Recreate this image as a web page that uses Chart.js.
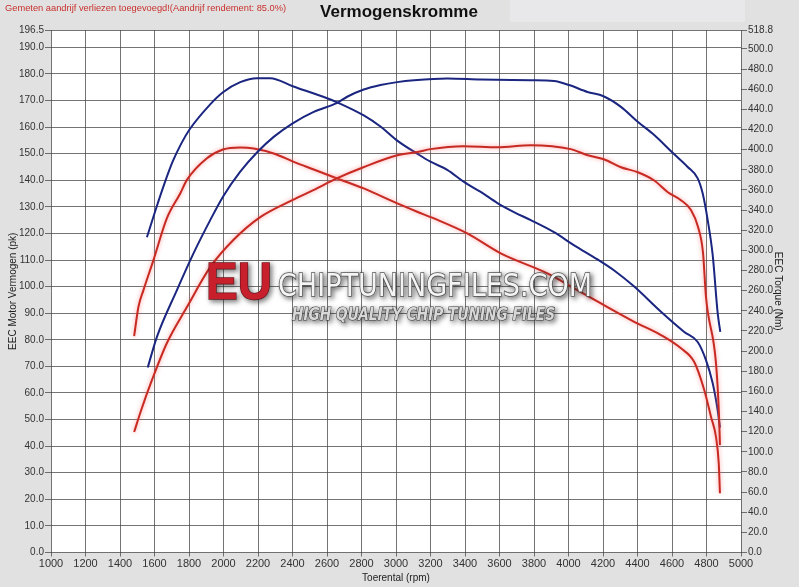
<!DOCTYPE html>
<html>
<head>
<meta charset="utf-8">
<script src="https://cdn.jsdelivr.net/npm/chart.js@4.4.1/dist/chart.umd.min.js"></script>
<style>
    html, body { margin: 0; padding: 0; background: #e1e1e1; }
</style>
</head>
<body>
<canvas id="chart" width="799" height="587"></canvas>
<script>
// tick labels
const rpmTicks = [1000, 1200, 1400, 1600, 1800, 2000, 2200, 2400, 2600, 2800, 3000,
    3200, 3400, 3600, 3800, 4000, 4200, 4400, 4600, 4800, 5000];
const pkTicks = [0, 10, 20, 30, 40, 50, 60, 70, 80, 90, 100, 110, 120, 130, 140,
    150, 160, 170, 180, 190, 196.5];
const nmTicks = [0, 20, 40, 60, 80, 100, 120, 140, 160, 180, 200, 220, 240, 260, 280,
    300, 320, 340, 360, 380, 400, 420, 440, 460, 480, 500, 518.8];

// tuned power (pk)
const tunedPowerRpm = [1561, 1614, 1730, 1826, 1923, 1997, 2097, 2198, 2291, 2401, 2523,
    2659, 2717, 2813, 2910, 3007, 3104, 3297, 3491, 3781, 3916, 4003, 4110, 4203, 4304,
    4401, 4497, 4604, 4691, 4749, 4778, 4807, 4836, 4865, 4880];
const tunedPowerPk = [69.6, 81.1, 98.7, 112.5, 125.0, 133.8, 143.2, 150.7, 156.3, 161.4, 165.7,
    169.1, 171.4, 174.1, 175.8, 176.9, 177.6, 178.3, 177.9, 177.6, 177.3, 175.8, 173.2, 171.6, 167.6,
    162.0, 157.0, 150.3, 145.0, 140.7, 135.0, 125.0, 111.8, 89.9, 83.0];

// stock power (pk)
const stockPowerRpm = [1482, 1523, 1585, 1672, 1788, 1923, 2057, 2213, 2399, 2521, 2660,
    2811, 3008, 3125, 3200, 3392, 3589, 3781, 4013, 4112, 4205, 4304, 4402, 4495, 4576,
    4652, 4710, 4751, 4780, 4797, 4855, 4872, 4878];
const stockPowerPk = [45.3, 53.6, 64.8, 78.8, 92.3, 107.3, 117.5, 126.1, 132.5, 136.3, 140.8,
    144.9, 149.4, 150.6, 151.7, 152.8, 152.4, 153.2, 151.7, 149.4, 147.9, 144.9, 143.0, 140.0, 135.5,
    132.5, 128.8, 122.4, 112.6, 96.1, 71.2, 52.4, 40.4];

// tuned torque (Nm)
const tunedTorqueRpm = [1556, 1610, 1655, 1705, 1755, 1803, 1923, 1997, 2097, 2194, 2271, 2401,
    2601, 2659, 2813, 2910, 3007, 3123, 3200, 3297, 3394, 3491, 3588, 3684, 3781, 3916,
    4033, 4168, 4265, 4381, 4536, 4671, 4749, 4797, 4836, 4865, 4878];
const tunedTorqueNm = [313, 342, 365, 388, 406, 420, 445, 457, 467, 471, 471, 463,
    451, 447, 434, 423, 409, 396, 388, 380, 368, 358, 347, 338, 330, 318,
    305, 291, 280, 264, 239, 219, 209, 191, 168, 141, 124];

// stock torque (Nm)
const stockTorqueRpm = [1482, 1507, 1536, 1594, 1672, 1749, 1788, 1904, 1997, 2097, 2175,
    2291, 2407, 2523, 2659, 2813, 3007, 3123, 3220, 3413, 3607, 3878, 4033, 4188, 4381,
    4536, 4652, 4729, 4787, 4826, 4855, 4871, 4878];
const stockTorqueNm = [214.9, 244.0, 260.5, 290.3, 332.0, 356.5, 370.0, 391.5, 400.2, 402.2, 401.2,
    396.2, 387.9, 380.3, 371.4, 361.5, 346.6, 338.3, 331.7, 316.8, 297.0, 277.1, 262.2, 247.3, 229.1,
    215.9, 202.7, 189.1, 161.3, 134.8, 114.9, 88.5, 58.8];

const BLUE = '#1b2680';
const RED = '#c72a22';
const GRID = 'rgba(70,70,70,0.75)';
const FONT = '"Liberation Sans", Arial, sans-serif';

const toPoints = (xs, ys) => xs.map((x, i) => ({ x: x, y: ys[i] }));

const makeSet = (label, xs, ys, color, axis) => ({
    label: label,
    data: toPoints(xs, ys),
    borderColor: color,
    borderWidth: 2,
    pointRadius: 0,
    fill: false,
    cubicInterpolationMode: 'monotone',
    yAxisID: axis,
    glow: color === RED,
});

const backgroundPlugin = {
    id: 'background',
    beforeDraw(chart) {
        const { ctx, chartArea } = chart;
        ctx.save();
        ctx.fillStyle = '#e1e1e1';
        ctx.fillRect(0, 0, chart.width, chart.height);
        ctx.fillStyle = '#e8e7e9';
        ctx.fillRect(510, 0, 235, 22);
        ctx.fillStyle = '#ffffff';
        ctx.fillRect(chartArea.left, chartArea.top,
            chartArea.right - chartArea.left, chartArea.bottom - chartArea.top);

        ctx.fillStyle = '#c8302c';
        ctx.font = '9.3px ' + FONT;
        ctx.textBaseline = 'middle';
        ctx.fillText('Gemeten aandrijf verliezen toegevoegd!(Aandrijf rendement: 85.0%)', 5, 8);

        ctx.fillStyle = '#111';
        ctx.font = 'bold 17px ' + FONT;
        ctx.textAlign = 'center';
        ctx.fillText('Vermogenskromme', 399, 12);
        ctx.restore();
    },
};

const glowPlugin = {
    id: 'glow',
    beforeDatasetDraw(chart, args) {
        const ds = chart.data.datasets[args.index];
        chart.ctx.save();
        if (ds.glow) {
            chart.ctx.shadowColor = 'rgba(255,110,110,0.7)';
            chart.ctx.shadowBlur = 4;
        }
    },
    afterDatasetDraw(chart) {
        chart.ctx.restore();
    },
};

const fitText = (ctx, text, x, y, width) => {
    const w = ctx.measureText(text).width;
    ctx.save();
    ctx.translate(x, y);
    ctx.scale(width / w, 1);
    ctx.strokeText(text, 0, 0);
    ctx.fillText(text, 0, 0);
    ctx.restore();
};

const watermarkPlugin = {
    id: 'watermark',
    afterDatasetsDraw(chart) {
        const { ctx } = chart;
        ctx.save();
        ctx.textBaseline = 'alphabetic';
        ctx.textAlign = 'left';

        ctx.shadowColor = 'rgba(40,40,40,0.6)';
        ctx.shadowBlur = 5;
        ctx.shadowOffsetX = 2;
        ctx.shadowOffsetY = 2;
        ctx.font = 'bold 52px ' + FONT;
        ctx.fillStyle = '#c81f2d';
        ctx.strokeStyle = '#7a1018';
        ctx.lineWidth = 1.5;
        fitText(ctx, 'EU', 206, 299, 66);

        ctx.font = '32px "DejaVu Sans", sans-serif';
        ctx.fillStyle = '#f4f4f4';
        ctx.strokeStyle = '#5a5a5a';
        ctx.lineWidth = 1.6;
        fitText(ctx, 'CHIPTUNINGFILES.COM', 278, 296, 314);

        ctx.font = 'bold italic 17px "DejaVu Sans", sans-serif';
        ctx.fillStyle = '#d8d8d8';
        ctx.strokeStyle = '#3a3a3a';
        ctx.lineWidth = 1.2;
        fitText(ctx, 'HIGH QUALITY CHIP TUNING FILES', 292, 320, 263);
        ctx.restore();
    },
};

const setTicks = (values) => (scale) => {
    scale.ticks = values.map((v) => ({ value: v }));
};

new Chart(document.getElementById('chart'), {
    type: 'line',
    data: {
        datasets: [
            makeSet('Vermogen getuned', tunedPowerRpm, tunedPowerPk, BLUE, 'y'),
            makeSet('Vermogen standaard', stockPowerRpm, stockPowerPk, RED, 'y'),
            makeSet('Koppel getuned', tunedTorqueRpm, tunedTorqueNm, BLUE, 'y2'),
            makeSet('Koppel standaard', stockTorqueRpm, stockTorqueNm, RED, 'y2'),
        ],
    },
    options: {
        responsive: false,
        animation: false,
        devicePixelRatio: 1,
        layout: { padding: { top: 30, left: 0, right: 0, bottom: 0 } },
        plugins: {
            legend: { display: false },
            tooltip: { enabled: false },
        },
        scales: {
            x: {
                type: 'linear',
                min: 1000,
                max: 5000,
                afterBuildTicks: setTicks(rpmTicks),
                afterFit: (scale) => { scale.height = 34.5; },
                grid: { color: GRID, lineWidth: 1, tickLength: 4 },
                border: { display: false },
                ticks: {
                    autoSkip: false,
                    maxRotation: 0,
                    padding: 1,
                    color: '#333',
                    font: { family: FONT, size: 11 },
                    callback: (v) => String(v),
                },
                title: {
                    display: true,
                    text: 'Toerental (rpm)',
                    color: '#222',
                    font: { family: FONT, size: 10 },
                    padding: { top: 0, bottom: 3 },
                },
            },
            y: {
                type: 'linear',
                position: 'left',
                min: 0,
                max: 196.5,
                afterBuildTicks: setTicks(pkTicks),
                afterFit: (scale) => { scale.width = 51; },
                grid: { color: GRID, lineWidth: 1, tickLength: 6 },
                border: { display: false },
                ticks: {
                    autoSkip: false,
                    padding: 1,
                    color: '#333',
                    font: { family: FONT, size: 10 },
                    callback: (v) => v.toFixed(1),
                },
                title: {
                    display: true,
                    text: 'EEC Motor Vermogen (pk)',
                    color: '#222',
                    font: { family: FONT, size: 10 },
                    padding: { top: 7, bottom: 0 },
                },
            },
            y2: {
                type: 'linear',
                position: 'right',
                min: 0,
                max: 518.8,
                afterBuildTicks: setTicks(nmTicks),
                afterFit: (scale) => { scale.width = 58; },
                grid: { color: GRID, lineWidth: 1, tickLength: 6, drawOnChartArea: false },
                border: { display: false },
                ticks: {
                    autoSkip: false,
                    padding: 1,
                    color: '#333',
                    font: { family: FONT, size: 10 },
                    callback: (v) => v.toFixed(1),
                },
                title: {
                    display: true,
                    text: 'EEC Torque (Nm)',
                    color: '#222',
                    font: { family: FONT, size: 10 },
                    padding: { top: 15, bottom: 0 },
                },
            },
        },
    },
    plugins: [backgroundPlugin, glowPlugin, watermarkPlugin],
});
</script>
</body>
</html>
